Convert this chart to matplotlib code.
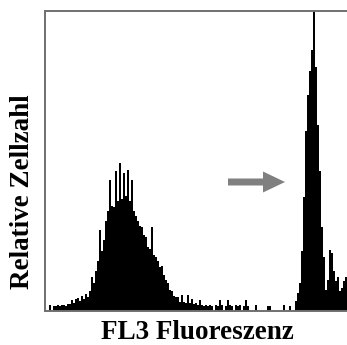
import matplotlib.pyplot as plt
import numpy as np
from matplotlib.patches import FancyArrow

# counts per channel (2 px channels)
counts_left = [
    0, 0, 6, 0, 5, 5, 6, 5, 6, 6, 5, 7, 7, 11, 8, 12, 13, 10, 15, 12,
    17, 14, 20, 34, 28, 40, 50, 81, 60, 71, 90, 100, 131, 105, 104, 140, 110, 148, 112, 138,
    115, 141, 110, 131, 100, 95, 90, 85, 84, 76, 74, 64, 62, 84, 56, 54, 50, 44, 45, 36,
    31, 28, 21, 20, 15, 14, 14, 9, 16, 9, 8, 16, 8, 12, 7, 8, 6, 11, 6, 5,
]
counts_mid = [
    6, 5, 6, 5, 0, 6, 5, 11, 6, 0, 5, 11, 6, 5, 0, 6, 5, 6, 0, 5,
    11, 5, 0, 0, 0, 6, 0, 0, 0, 0, 0, 5, 5, 0, 0, 0, 0, 0, 0, 6,
    0, 0, 5, 0, 0,
]
counts_right = [
    10, 18, 28, 60, 114, 180, 216, 240, 261, 300, 244, 186, 140, 84, 54, 21,
    31, 61, 58, 40, 30, 34, 20, 23, 30, 34,
]
counts = np.array(counts_left + counts_mid + counts_right)
edges = np.arange(len(counts) + 1)

fig = plt.figure(figsize=(3.47, 3.45), dpi=100)
ax = fig.add_axes([45 / 347, 34 / 345, 302 / 347, 300 / 345])

ax.stairs(counts, edges, fill=True, color='black', linewidth=0)

# grey arrow pointing at the right peak
ax.add_patch(FancyArrow(91.5, 129, 28.5, 0, width=7, head_width=21,
                        head_length=11, length_includes_head=True,
                        color='#808080', linewidth=0))

ax.set_xlim(0, 151)
ax.set_ylim(0, 300)
ax.set_xticks([])
ax.set_yticks([])
for side in ['left', 'top', 'bottom']:
    ax.spines[side].set_color('#707070')
    ax.spines[side].set_linewidth(1.4)
ax.spines['right'].set_visible(False)

fig.text(197 / 347, 1 - 339 / 345, 'FL3 Fluoreszenz', ha='center', va='baseline',
         family='Liberation Serif', fontweight='bold', fontsize=19.5)
fig.text(23 / 347, 1 - 192 / 345, 'Relative Zellzahl', ha='center', va='center',
         rotation=90, family='Liberation Serif', fontweight='bold', fontsize=19.5)

fig.savefig('out.png', dpi=100)
